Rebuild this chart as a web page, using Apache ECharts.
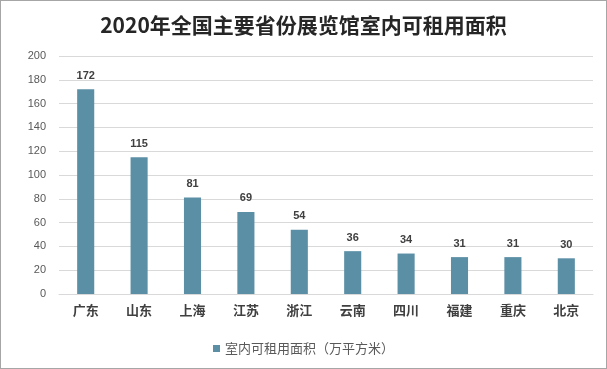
<!DOCTYPE html>
<html><head><meta charset="utf-8">
<script src="https://cdn.jsdelivr.net/npm/echarts@6/dist/echarts.min.js"></script>
<style>html,body{margin:0;padding:0;background:#fff}#c{width:607px;height:369px;box-sizing:border-box;border:1px solid #a6a6a6}</style>
</head><body><div id="c"></div>
<script>
const categories = ['广东','山东','上海','江苏','浙江','云南','四川','福建','重庆','北京'];
const values = [172,115,81,69,54,36,34,31,31,30];
const seriesName = '室内可租用面积（万平方米）';
const titleText = '2020年全国主要省份展览馆室内可租用面积';
const chart = echarts.init(document.getElementById('c'));
chart.setOption({
  animation:false,
  backgroundColor:'#fff',
  title:{text:titleText,left:'center',top:9,textStyle:{fontFamily:'Noto Sans CJK SC',fontSize:21,fontWeight:'bold',color:'#262626'}},
  grid:{left:58,right:13,top:55,bottom:74},
  legend:{bottom:8,left:'center',itemWidth:7,itemHeight:7,icon:'rect',textStyle:{fontFamily:'Noto Sans CJK SC',fontSize:13,color:'#595959'},data:[seriesName]},
  xAxis:{type:'category',data:categories,axisTick:{show:false},axisLine:{lineStyle:{color:'#d9d9d9'}},
    axisLabel:{fontFamily:'Noto Sans CJK SC',fontSize:13,fontWeight:'bold',color:'#404040',margin:10}},
  yAxis:{type:'value',min:0,max:200,interval:20,axisLine:{show:false},axisTick:{show:false},
    splitLine:{lineStyle:{color:'#d9d9d9'}},axisLabel:{fontFamily:'Liberation Sans',fontSize:11,color:'#595959',margin:13}},
  series:[{name:seriesName,type:'bar',data:values,barWidth:'32%',itemStyle:{color:'#5b8fa6'},
    label:{show:true,position:'top',distance:8,fontFamily:'Liberation Sans',fontSize:11,fontWeight:'bold',color:'#404040'}}]
});
</script></body></html>
